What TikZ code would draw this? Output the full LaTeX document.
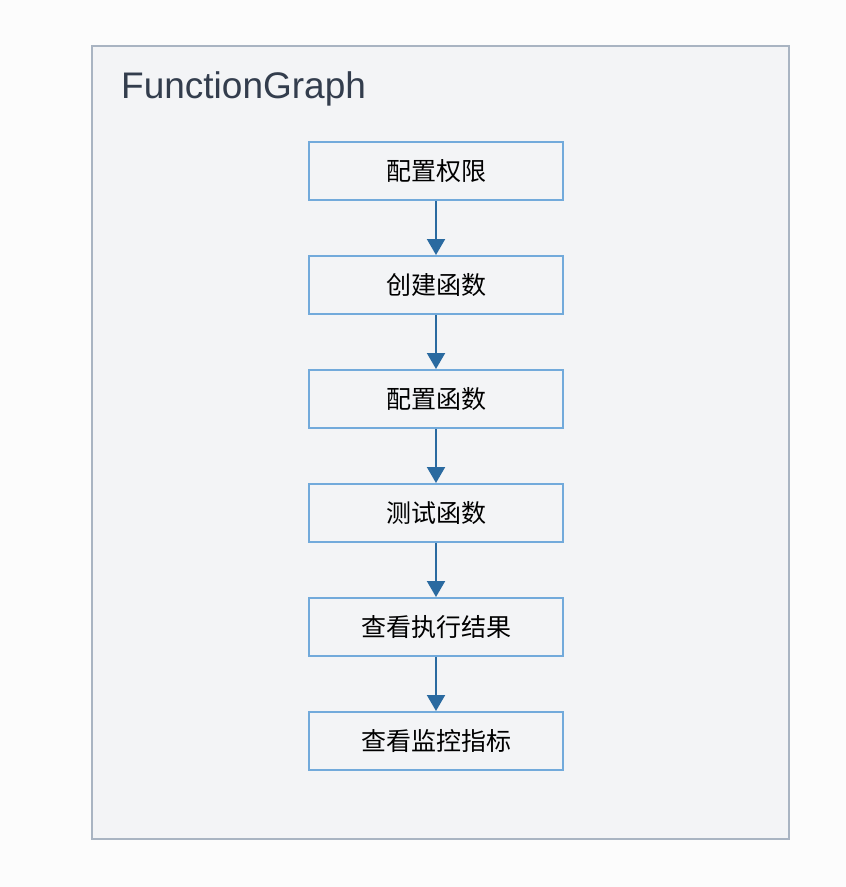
\documentclass[tikz,border=0pt]{standalone}
\usepackage{fontspec}
\setmainfont{Liberation Sans}
\newfontfamily\cjk{Noto Sans CJK SC}
\usetikzlibrary{arrows.meta}
\definecolor{pagebg}{HTML}{FCFCFC}
\definecolor{framebg}{HTML}{F3F4F6}
\definecolor{frameline}{HTML}{A9B4C2}
\definecolor{boxline}{HTML}{72AADB}
\definecolor{arrowblue}{HTML}{2A6AA0}
\definecolor{titlegray}{HTML}{333D4D}
\begin{document}
\begin{tikzpicture}[x=1pt,y=-1pt,
	stepbox/.style={draw=boxline,line width=2pt,fill=framebg,minimum width=254pt,minimum height=58pt,font=\cjk\fontsize{25}{25}\selectfont},
	flow/.style={draw=arrowblue,line width=2pt,-{Triangle[length=16pt,width=18pt]}}]
				\tikzstyle{every node}+=[inner sep=0pt]
				\useasboundingbox [fill=pagebg] (0,0) rectangle (846,887);
				\draw [frameline,fill=framebg,line width=2pt] (92,46) rectangle (789,839);
				\node [anchor=base west,text=titlegray,font=\fontsize{37}{37}\selectfont] (title) at (121,98) {FunctionGraph};
				\node [stepbox] (perm) at (436,171) {配置权限};
				\node [stepbox] (create) at (436,285) {创建函数};
				\node [stepbox] (config) at (436,399) {配置函数};
				\node [stepbox] (test) at (436,513) {测试函数};
				\node [stepbox] (result) at (436,627) {查看执行结果};
				\node [stepbox] (monitor) at (436,741) {查看监控指标};
				\draw [flow] (perm) -- (create);
				\draw [flow] (create) -- (config);
				\draw [flow] (config) -- (test);
				\draw [flow] (test) -- (result);
				\draw [flow] (result) -- (monitor);
\end{tikzpicture}
\end{document}
